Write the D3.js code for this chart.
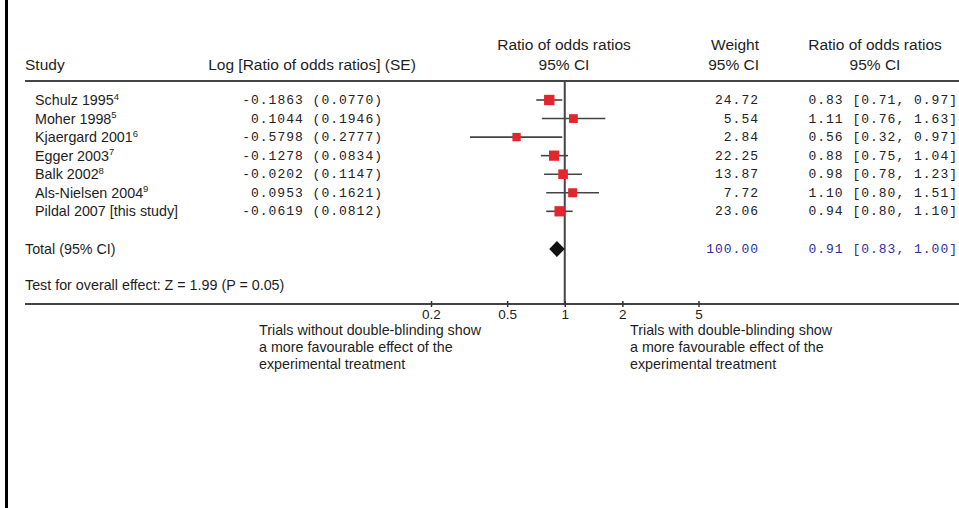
<!DOCTYPE html>
<html>
<head>
<meta charset="utf-8">
<script src="https://cdn.jsdelivr.net/npm/d3@7/dist/d3.min.js"></script>
<style>
  body { margin: 0; background: #fff; }
  svg { display: block; }
  .sans { font-family: "Liberation Sans", Arial, sans-serif; fill: #1e1e1e; }
  .mono { font-family: "Liberation Mono", "Courier New", monospace; white-space: pre; }
</style>
</head>
<body>
<div id="chart"></div>
<script>
// data
const studies = ["Schulz 1995", "Moher 1998", "Kjaergard 2001", "Egger 2003", "Balk 2002", "Als-Nielsen 2004", "Pildal 2007 [this study]"];
const refs = ["4", "5", "6", "7", "8", "9", ""];
const logRatio = [-0.1863, 0.1044, -0.5798, -0.1278, -0.0202, 0.0953, -0.0619];
const logSE = [0.0770, 0.1946, 0.2777, 0.0834, 0.1147, 0.1621, 0.0812];
const weights = [24.72, 5.54, 2.84, 22.25, 13.87, 7.72, 23.06];
const ratios = [0.83, 1.11, 0.56, 0.88, 0.98, 1.10, 0.94];
const ciLow = [0.71, 0.76, 0.32, 0.75, 0.78, 0.80, 0.80];
const ciHigh = [0.97, 1.63, 0.97, 1.04, 1.23, 1.51, 1.10];
const totalWeight = 100.00;
const totalRatio = 0.91;
const totalLow = 0.83;
const totalHigh = 1.00;
const axisTicks = [0.2, 0.5, 1, 2, 5];

const width = 959, height = 508;

const svg = d3.select("#chart").append("svg")
    .attr("width", width)
    .attr("height", height);

// scales
const x = d3.scaleLog()
    .domain([0.2, 5])
    .range([431, 698.5]);

const y = d3.scaleLinear()
    .domain([0, studies.length - 1])
    .range([100, 211.3]);

const size = d3.scaleSqrt()
    .domain([0, 25])
    .range([7.3, 10.4]);

const totalY = 249;
const axisY = 304;
const headerY = 81;
const monoSize = 13, monoSpacing = 1.0;

// left frame border
svg.append("rect")
    .attr("x", 5).attr("y", 0)
    .attr("width", 3).attr("height", height)
    .attr("fill", "#000");

// header text
const head = svg.append("g").attr("class", "sans").attr("font-size", 15.5);
head.append("text").attr("x", 25).attr("y", 70).text("Study");
head.append("text").attr("x", 312).attr("y", 70).attr("text-anchor", "middle").text("Log [Ratio of odds ratios] (SE)");
head.append("text").attr("x", 564).attr("y", 50).attr("text-anchor", "middle").text("Ratio of odds ratios");
head.append("text").attr("x", 564).attr("y", 70).attr("text-anchor", "middle").text("95% CI");
head.append("text").attr("x", 759).attr("y", 50).attr("text-anchor", "end").text("Weight");
head.append("text").attr("x", 759).attr("y", 70).attr("text-anchor", "end").text("95% CI");
head.append("text").attr("x", 875).attr("y", 50).attr("text-anchor", "middle").text("Ratio of odds ratios");
head.append("text").attr("x", 875).attr("y", 70).attr("text-anchor", "middle").text("95% CI");

// header rule
svg.append("line")
    .attr("x1", 25).attr("x2", width)
    .attr("y1", headerY).attr("y2", headerY)
    .attr("stroke", "#444").attr("stroke-width", 2);

// line of no effect
svg.append("line")
    .attr("x1", x(1)).attr("x2", x(1))
    .attr("y1", headerY).attr("y2", axisY)
    .attr("stroke", "#444").attr("stroke-width", 2);

const rows = studies.map((s, i) => ({
    name: s, ref: refs[i], lr: logRatio[i], se: logSE[i],
    w: weights[i], or: ratios[i], lo: ciLow[i], hi: ciHigh[i], i: i
}));

// study names
const names = svg.append("g").attr("class", "sans").attr("font-size", 14.3)
    .selectAll("text")
    .data(rows)
    .join("text")
    .attr("x", 35)
    .attr("y", d => y(d.i) + 5);
names.append("tspan").text(d => d.name);
names.append("tspan")
    .attr("font-size", 9.5)
    .attr("dy", -5.5)
    .text(d => d.ref);

const fmtSigned = v => (v < 0 ? "-" : " ") + Math.abs(v).toFixed(4);

function monoColumn(xPos, fmt) {
    svg.append("g").attr("class", "mono")
        .attr("font-size", monoSize).attr("letter-spacing", monoSpacing)
        .attr("fill", "#222")
        .selectAll("text")
        .data(rows)
        .join("text")
        .attr("x", xPos)
        .attr("y", d => y(d.i) + 4)
        .attr("text-anchor", "end")
        .text(fmt);
}

monoColumn(383, d => fmtSigned(d.lr) + " (" + d.se.toFixed(4) + ")");
monoColumn(759, d => d.w.toFixed(2));
monoColumn(958, d => d.or.toFixed(2) + " [" + d.lo.toFixed(2) + ", " + d.hi.toFixed(2) + "]");

// confidence intervals
svg.append("g")
    .selectAll("line")
    .data(rows)
    .join("line")
    .attr("x1", d => x(d.lo))
    .attr("x2", d => x(d.hi))
    .attr("y1", d => y(d.i))
    .attr("y2", d => y(d.i))
    .attr("stroke", "#444")
    .attr("stroke-width", 1.6);

// weighted squares
svg.append("g")
    .selectAll("rect")
    .data(rows)
    .join("rect")
    .attr("x", d => x(d.or) - size(d.w) / 2)
    .attr("y", d => y(d.i) - size(d.w) / 2)
    .attr("width", d => size(d.w))
    .attr("height", d => size(d.w))
    .attr("fill", "#e3262b");

// total row
svg.append("text").attr("class", "sans").attr("font-size", 14.3)
    .attr("x", 25).attr("y", totalY + 5)
    .text("Total (95% CI)");

svg.append("path")
    .attr("d", `M${x(totalLow)},${totalY} L${x(totalRatio)},${totalY - 8} L${x(totalHigh)},${totalY} L${x(totalRatio)},${totalY + 8} Z`)
    .attr("fill", "#111");

svg.append("text").attr("class", "mono")
    .attr("font-size", monoSize).attr("letter-spacing", monoSpacing)
    .attr("fill", "#2d2f9a")
    .attr("x", 759).attr("y", totalY + 4)
    .attr("text-anchor", "end")
    .text(totalWeight.toFixed(2));

svg.append("text").attr("class", "mono")
    .attr("font-size", monoSize).attr("letter-spacing", monoSpacing)
    .attr("fill", "#2d2f9a")
    .attr("x", 958).attr("y", totalY + 4)
    .attr("text-anchor", "end")
    .text(totalRatio.toFixed(2) + " [" + totalLow.toFixed(2) + ", " + totalHigh.toFixed(2) + "]");

svg.append("text").attr("class", "sans").attr("font-size", 14.3)
    .attr("x", 25).attr("y", 290)
    .text("Test for overall effect: Z = 1.99 (P = 0.05)");

// bottom axis
svg.append("line")
    .attr("x1", 25).attr("x2", width)
    .attr("y1", axisY).attr("y2", axisY)
    .attr("stroke", "#444").attr("stroke-width", 2);

const xAxis = d3.axisBottom(x)
    .tickValues(axisTicks)
    .tickFormat(d3.format("~g"))
    .tickSize(3);

const axisG = svg.append("g")
    .attr("transform", `translate(0,${axisY})`)
    .call(xAxis);
axisG.select(".domain").remove();
axisG.selectAll(".tick line")
    .attr("y1", -3)
    .attr("stroke", "#333")
    .attr("stroke-width", 1.5);
axisG.selectAll(".tick text")
    .attr("y", 5)
    .attr("dy", "0.71em")
    .attr("font-family", "Liberation Sans, Arial, sans-serif")
    .attr("font-size", 13.5)
    .attr("fill", "#222");

// favour labels
const favLeft = ["Trials without double-blinding show", "a more favourable effect of the", "experimental treatment"];
const favRight = ["Trials with double-blinding show", "a more favourable effect of the", "experimental treatment"];

svg.append("g").attr("class", "sans").attr("font-size", 14.3)
    .selectAll("text")
    .data(favLeft)
    .join("text")
    .attr("x", 259)
    .attr("y", (d, i) => 335 + i * 17)
    .text(d => d);

svg.append("g").attr("class", "sans").attr("font-size", 14.3)
    .selectAll("text")
    .data(favRight)
    .join("text")
    .attr("x", 630)
    .attr("y", (d, i) => 335 + i * 17)
    .text(d => d);
</script>
</body>
</html>
